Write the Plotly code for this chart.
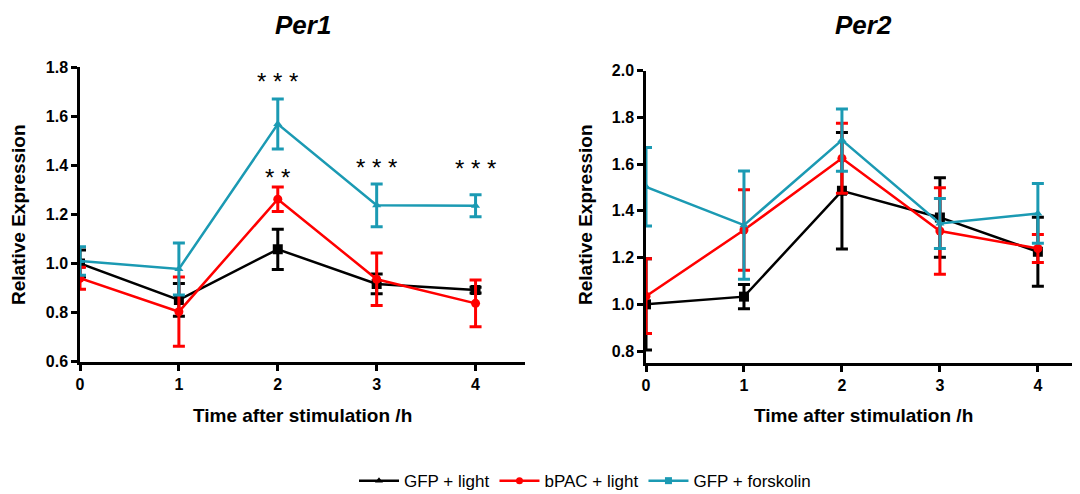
import plotly.graph_objects as go

time_h = [0, 1, 2, 3, 4]
series_names = ["GFP + light", "bPAC + light", "GFP + forskolin"]

# Per1
per1_gfp = [1.00, 0.852, 1.058, 0.917, 0.892]
per1_gfp_err = [0.055, 0.067, 0.082, 0.040, 0.012]
per1_bpac = [0.940, 0.804, 1.262, 0.936, 0.838]
per1_bpac_err = [0.045, 0.141, 0.050, 0.107, 0.095]
per1_fsk = [1.010, 0.978, 1.568, 1.237, 1.235]
per1_fsk_err = [0.058, 0.106, 0.102, 0.087, 0.045]
per1_stars = ["* * *", "* *", "* * *", "* * *"]
per1_star_x = [2, 2, 3, 4]
per1_star_y = [1.74, 1.35, 1.39, 1.385]

# Per2
per2_gfp = [1.000, 1.033, 1.486, 1.372, 1.225]
per2_gfp_err = [0.195, 0.052, 0.249, 0.170, 0.148]
per2_bpac = [1.035, 1.318, 1.625, 1.314, 1.239]
per2_bpac_err = [0.160, 0.172, 0.150, 0.185, 0.060]
per2_fsk = [1.503, 1.339, 1.703, 1.346, 1.389]
per2_fsk_err = [0.168, 0.232, 0.133, 0.107, 0.128]

BLACK = "#000000"
RED = "#FF0000"
CYAN = "#1B9AB3"
FONT = "Liberation Sans, Arial, sans-serif"

fig = go.Figure()

def add_series(x, y, err, color, symbol, size, xa, ya):
    fig.add_trace(go.Scatter(
        x=x, y=y, mode="lines+markers", xaxis=xa, yaxis=ya, showlegend=False,
        line=dict(color=color, width=2.5),
        marker=dict(color=color, symbol=symbol, size=size),
        error_y=dict(type="data", array=err, visible=True, color=color, thickness=3, width=6),
    ))

for xa, ya, data in [
    ("x", "y", [(per1_gfp, per1_gfp_err), (per1_bpac, per1_bpac_err), (per1_fsk, per1_fsk_err)]),
    ("x2", "y2", [(per2_gfp, per2_gfp_err), (per2_bpac, per2_bpac_err), (per2_fsk, per2_fsk_err)]),
]:
    add_series(time_h, data[0][0], data[0][1], BLACK, "square", 10, xa, ya)
    add_series(time_h, data[1][0], data[1][1], RED, "circle", 9, xa, ya)
    add_series(time_h, data[2][0], data[2][1], CYAN, "triangle-up", 8, xa, ya)

# legend entries
for name, color, sym in zip(series_names, [BLACK, RED, CYAN], ["triangle-up", "circle", "square"]):
    fig.add_trace(go.Scatter(x=[None], y=[None], mode="lines+markers", name=name,
                             line=dict(color=color, width=2.5),
                             marker=dict(color=color, symbol=sym, size=7)))

axis_common = dict(showline=True, linecolor="black", linewidth=2.5, ticks="outside",
                   ticklen=6, tickwidth=2.5, tickcolor="black", showgrid=False, zeroline=False,
                   automargin=False,
                   tickfont=dict(family=FONT, size=16, color="black", weight="bold"))

# page body has an 8px margin, so the figure is sized to fit the 1080x494 window
fig.update_layout(
    width=1072, height=486,
    margin=dict(l=72, r=0, t=59, b=131, autoexpand=False),
    paper_bgcolor="white", plot_bgcolor="white",
    font=dict(family=FONT, color="black"),
    xaxis=dict(domain=[0, 0.445], range=[0, 4.5], tickvals=time_h, anchor="y", **axis_common),
    yaxis=dict(domain=[0.004, 1.0], range=[0.6, 1.8], tickvals=[0.6, 0.8, 1.0, 1.2, 1.4, 1.6, 1.8],
               ticktext=["0.6", "0.8", "1.0", "1.2", "1.4", "1.6", "1.8"], anchor="x", **axis_common),
    xaxis2=dict(domain=[0.566, 1.0], range=[0, 4.43], tickvals=time_h, anchor="y2", **axis_common),
    yaxis2=dict(domain=[0, 0.9875], range=[0.749, 2.0], tickvals=[0.8, 1.0, 1.2, 1.4, 1.6, 1.8, 2.0],
                ticktext=["0.8", "1.0", "1.2", "1.4", "1.6", "1.8", "2.0"], anchor="x2", **axis_common),
    legend=dict(orientation="h", x=0.505, xanchor="center", y=-0.399, yanchor="middle",
                font=dict(family=FONT, size=17, color="black"), itemwidth=40),
)

annotations = []
for t, xx, yy in zip(per1_stars, per1_star_x, per1_star_y):
    annotations.append(dict(text=t, x=xx, y=yy, xref="x", yref="y", showarrow=False,
                            xanchor="center", yanchor="middle",
                            font=dict(family=FONT, size=24, color="black")))

for text, x in [("Per1", 0.2225), ("Per2", 0.783)]:
    annotations.append(dict(text=text, x=x, y=1.142, xref="paper", yref="paper", showarrow=False,
                            xanchor="center", yanchor="middle",
                            font=dict(family=FONT, size=26, color="black", weight="bold", style="italic")))
for x in [0.2225, 0.783]:
    annotations.append(dict(text="Time after stimulation /h", x=x, y=-0.176, xref="paper", yref="paper",
                            showarrow=False, xanchor="center", yanchor="middle",
                            font=dict(family=FONT, size=19, color="black", weight="bold")))
for x in [-0.062, 0.505]:
    annotations.append(dict(text="Relative Expression", x=x, y=0.5, xref="paper", yref="paper",
                            textangle=-90, showarrow=False, xanchor="center", yanchor="middle",
                            font=dict(family=FONT, size=19, color="black", weight="bold")))
fig.update_layout(annotations=annotations)

fig.write_html("out.html")
